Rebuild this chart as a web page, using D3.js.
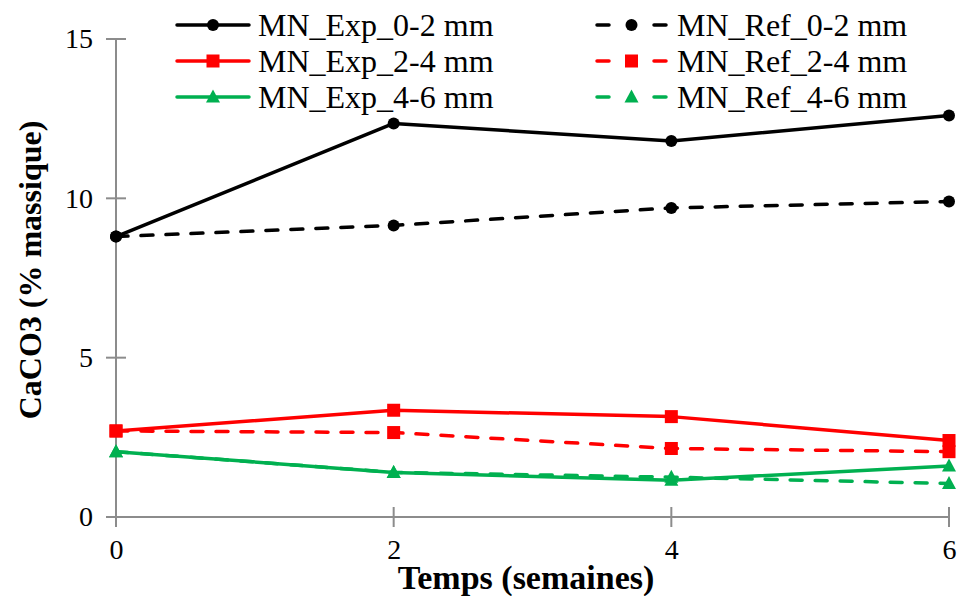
<!DOCTYPE html>
<html><head><meta charset="utf-8">
<script src="https://cdn.jsdelivr.net/npm/d3@7"></script>
<style>body{margin:0;background:#fff}svg{display:block}text{font-family:"Liberation Serif","DejaVu Serif",serif}</style>
</head><body><svg id="c" width="962" height="596"></svg>
<script>
const weeks = [0, 2, 4, 6];
const exp02 = [8.8, 12.35, 11.8, 12.6];
const ref02 = [8.8, 9.15, 9.7, 9.9];
const exp24 = [2.7, 3.35, 3.15, 2.4];
const ref24 = [2.7, 2.65, 2.15, 2.05];
const exp46 = [2.05, 1.4, 1.15, 1.6];
const ref46 = [2.05, 1.4, 1.25, 1.05];
const xTicks = [0, 2, 4, 6];
const yTicks = [0, 5, 10, 15];
const seriesNames = ["MN_Exp_0-2 mm","MN_Ref_0-2 mm","MN_Exp_2-4 mm","MN_Ref_2-4 mm","MN_Exp_4-6 mm","MN_Ref_4-6 mm"];

const series = [
  {name: seriesNames[0], values: exp02, color: "#000000", dashed: false, marker: "circle"},
  {name: seriesNames[1], values: ref02, color: "#000000", dashed: true, marker: "circle"},
  {name: seriesNames[2], values: exp24, color: "#FF0000", dashed: false, marker: "square"},
  {name: seriesNames[3], values: ref24, color: "#FF0000", dashed: true, marker: "square"},
  {name: seriesNames[4], values: exp46, color: "#00B050", dashed: false, marker: "triangle"},
  {name: seriesNames[5], values: ref46, color: "#00B050", dashed: true, marker: "triangle"}
];

const svg = d3.select("#c");
const x = d3.scaleLinear().domain([0, 6]).range([116, 949]);
const y = d3.scaleLinear().domain([0, 15]).range([517, 39]);
const axisColor = "#8c8c8c";

// axes
const yAxis = svg.append("g").attr("transform", `translate(${x(0)},0)`)
  .call(d3.axisLeft(y).tickValues(yTicks).tickFormat(d3.format("d")).tickSize(0).tickPadding(23));
yAxis.select(".domain").remove();
yAxis.selectAll("text").attr("font-size", 28).attr("fill", "#000").attr("font-family", "Liberation Serif");
svg.append("line").attr("x1", x(0)).attr("x2", x(0)).attr("y1", y(15)).attr("y2", y(0)).attr("stroke", axisColor).attr("stroke-width", 2);
svg.selectAll(".ytk").data(yTicks).enter().append("line")
  .attr("x1", x(0) - 10).attr("x2", x(0) + 10).attr("y1", d => y(d)).attr("y2", d => y(d))
  .attr("stroke", axisColor).attr("stroke-width", 2);

const xAxis = svg.append("g").attr("transform", `translate(0,${y(0)})`)
  .call(d3.axisBottom(x).tickValues(xTicks).tickFormat(d3.format("d")).tickSize(0).tickPadding(22));
xAxis.select(".domain").remove();
xAxis.selectAll("text").attr("font-size", 28).attr("fill", "#000").attr("font-family", "Liberation Serif");
svg.append("line").attr("x1", x(0) - 10).attr("x2", x(6)).attr("y1", y(0)).attr("y2", y(0)).attr("stroke", axisColor).attr("stroke-width", 2);
svg.selectAll(".xtk").data(xTicks).enter().append("line")
  .attr("x1", d => x(d)).attr("x2", d => x(d)).attr("y1", y(0) - 10).attr("y2", y(0) + 10)
  .attr("stroke", axisColor).attr("stroke-width", 2);

// titles
svg.append("text").attr("transform", "translate(41,270) rotate(-90)").attr("text-anchor", "middle")
  .attr("font-size", 32).attr("font-weight", "bold").text("CaCO3 (% massique)");
svg.append("text").attr("x", 526).attr("y", 589).attr("text-anchor", "middle")
  .attr("font-size", 34).attr("font-weight", "bold").text("Temps (semaines)");

function drawMarker(g, type, cx, cy, color) {
  if (type === "circle") g.append("circle").attr("cx", cx).attr("cy", cy).attr("r", 6).attr("fill", color);
  else if (type === "square") g.append("rect").attr("x", cx - 6.5).attr("y", cy - 6.5).attr("width", 13).attr("height", 13).attr("fill", color);
  else g.append("path").attr("d", `M${cx},${cy - 7.5}L${cx + 7},${cy + 5.5}L${cx - 7},${cy + 5.5}Z`).attr("fill", color);
}

const line = d3.line().x((d, i) => x(weeks[i])).y(d => y(d));
// draw dashed first, then solid
const order = [1, 3, 5, 0, 2, 4];
order.forEach(k => {
  const s = series[k];
  const g = svg.append("g");
  g.append("path").attr("d", line(s.values)).attr("fill", "none").attr("stroke", s.color)
    .attr("stroke-width", 3.5).attr("stroke-dasharray", s.dashed ? "12,13" : null)
    .attr("stroke-linecap", s.dashed ? "round" : "butt").attr("stroke-linejoin", "round");
  s.values.forEach((v, i) => drawMarker(g, s.marker, x(weeks[i]), y(v), s.color));
});

// legend
const legRows = [25, 61, 97];
const legCols = [{x1: 177, x2: 249, tx: 258}, {x1: 597, x2: 666, tx: 677}];
series.forEach((s, k) => {
  const col = legCols[k % 2], row = legRows[Math.floor(k / 2)];
  const g = svg.append("g");
  g.append("line").attr("x1", col.x1).attr("x2", col.x2).attr("y1", row).attr("y2", row)
    .attr("stroke", s.color).attr("stroke-width", 3.5)
    .attr("stroke-dasharray", s.dashed ? "12,45" : null).attr("stroke-linecap", "round");
  drawMarker(g, s.marker, (col.x1 + col.x2) / 2, row, s.color);
  g.append("text").attr("x", col.tx).attr("y", row + 11).attr("font-size", 32).text(s.name);
});
</script></body></html>
